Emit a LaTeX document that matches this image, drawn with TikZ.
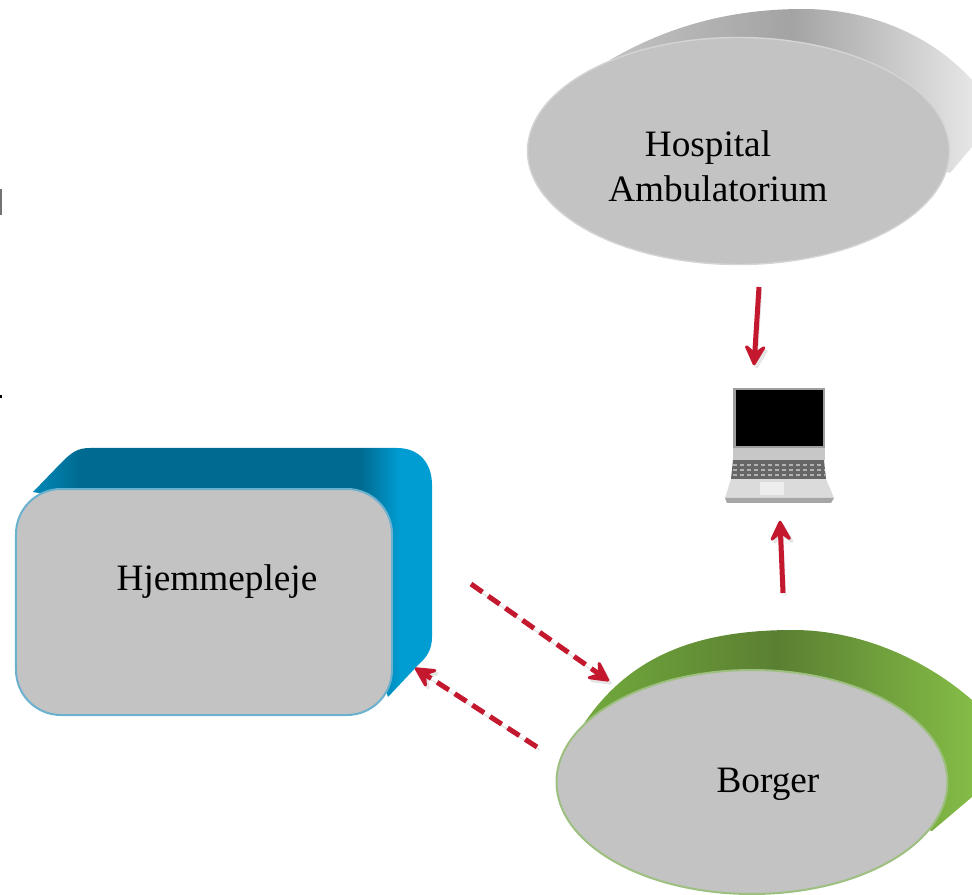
\documentclass[tikz,border=0pt]{standalone}
\usepackage{fontspec}
\setmainfont{Liberation Serif}
\usetikzlibrary{arrows.meta,shapes.geometric}
\definecolor{facegray}{HTML}{C3C3C3}
\definecolor{arrowred}{HTML}{C4182F}
\definecolor{blueside}{HTML}{009DD3}
\definecolor{bluetop}{HTML}{006A90}
\definecolor{blueleft}{HTML}{0088B8}
\definecolor{blueedge}{HTML}{6AB0CF}
\definecolor{greendark}{HTML}{5A7F32}
\definecolor{greenleft}{HTML}{72A93C}
\definecolor{greenlight}{HTML}{84BC46}
\definecolor{greenedge}{HTML}{9DC080}
\pgfdeclarehorizontalshading{bluefront}{100bp}{color(0bp)=(blueleft); color(25bp)=(blueleft); color(31bp)=(bluetop); color(66bp)=(bluetop); color(71bp)=(blueside); color(100bp)=(blueside)}
\tikzset{
  facetext/.style={font=\fontsize{10.6}{12}\selectfont, text=black, anchor=base},
  redarrow/.style={arrowred, line width=0.05cm, -{Stealth[length=0.25cm,width=0.26cm,inset=0.1cm,round,line width=0.03cm]},
    preaction={draw=black!10, transform canvas={shift={(0.025,-0.03)}}}},
  reddash/.style={redarrow, dash pattern=on 0.14cm off 0.07cm},
}
\begin{document}
\begin{tikzpicture}
\useasboundingbox (0,0) rectangle (9.72,8.94);
\clip (0,0) rectangle (9.72,8.94);

% Hospital
\shade[left color=black!24, right color=black!10, middle color=black!36] (6.10,8.34) .. controls (6.75,8.72) and (7.4,8.85) .. (8.03,8.85) .. controls (8.75,8.85) and (9.35,8.55) .. (9.72,8.14) -- (9.72,7.47) -- (9.50,7.21) -- cycle;
\node[ellipse, minimum width=4.22cm, minimum height=2.27cm, inner sep=0pt, fill=facegray, draw=black!17] (hospital) at (7.385,7.43) {};
\node[facetext] (hospitaltext) at (7.08,7.37) {Hospital};
\node[facetext] (ambulatext) at (7.18,6.93) {Ambulatorium};

% Hjemmepleje
\shade[shading=bluefront] (0.33,4.02) -- (0.62,4.32) .. controls (0.72,4.42) and (0.78,4.46) .. (0.9,4.46) -- (3.97,4.46) .. controls (4.2,4.46) and (4.32,4.3) .. (4.32,4.09) -- (4.32,2.57) .. controls (4.32,2.45) and (4.27,2.37) .. (4.2,2.31) -- (3.88,1.97) -- (3.4,3.5) -- cycle;
\node[rectangle, rounded corners=0.45cm, minimum width=3.76cm, minimum height=2.26cm, inner sep=0pt, fill=facegray, draw=blueedge, line width=0.02cm] (hjemmepleje) at (2.04,2.92) {};
\node[facetext] (hjemtext) at (2.17,3.04) {Hjemmepleje};

% Borger
\shade[left color=greenleft, right color=greenlight, middle color=greendark] (5.83,1.69) .. controls (6.3,2.4) and (7.0,2.64) .. (7.93,2.64) .. controls (8.6,2.64) and (9.25,2.35) .. (9.72,1.94) -- (9.72,0.97) -- (9.32,0.63) -- cycle;
\node[ellipse, minimum width=3.91cm, minimum height=2.24cm, inner sep=0pt, fill=facegray, draw=greenedge, line width=0.02cm] (borger) at (7.52,1.12) {};
\node[facetext] (borgertext) at (7.68,1.02) {Borger};

% laptop
\node[minimum width=1.18cm, minimum height=1.54cm, inner sep=0pt] (laptop) at (7.79,4.51) {};
\fill[black!38] (7.33,5.06) rectangle (8.25,4.46);
\fill[black] (7.36,5.04) rectangle (8.23,4.48);
\fill[black!22] (7.33,4.46) rectangle (8.25,4.34);
\fill[black!60] (7.33,4.34) -- (8.24,4.34) -- (8.26,4.15) -- (7.31,4.15) -- cycle;
\foreach \y in {4.19,4.24,4.29} {
  \draw[black!30, line width=0.02cm, dash pattern=on 0.04cm off 0.03cm] (7.33,\y) -- (8.25,\y);
}
\fill[black!14] (7.31,4.15) -- (8.26,4.15) -- (8.34,3.96) -- (7.25,3.96) -- cycle;
\fill[black!7] (7.60,4.12) rectangle (7.84,3.99);
\fill[black!35] (7.25,3.96) -- (8.34,3.96) -- (8.31,3.91) -- (7.27,3.91) -- cycle;

% arrows
\coordinate (hospitalout) at (7.59,6.07);
\coordinate (borgerout) at (7.83,3.01);
\coordinate (hjemout) at (4.71,3.10);
\coordinate (borgerin) at (6.09,2.13);
\coordinate (borgerback) at (5.37,1.47);
\coordinate (hjemin) at (4.15,2.26);

\draw[redarrow] (hospitalout) -- ([xshift=-0.25cm]laptop.north);
\draw[redarrow] (borgerout) -- ([xshift=0.01cm]laptop.south);
\draw[reddash] (hjemout) -- (borgerin);
\draw[reddash] (borgerback) -- (hjemin);

% marks on the left edge
\fill[black!55] (0,7.05) rectangle (0.02,6.79);
\fill[black] (0,4.99) rectangle (0.02,4.96);
\end{tikzpicture}
\end{document}
